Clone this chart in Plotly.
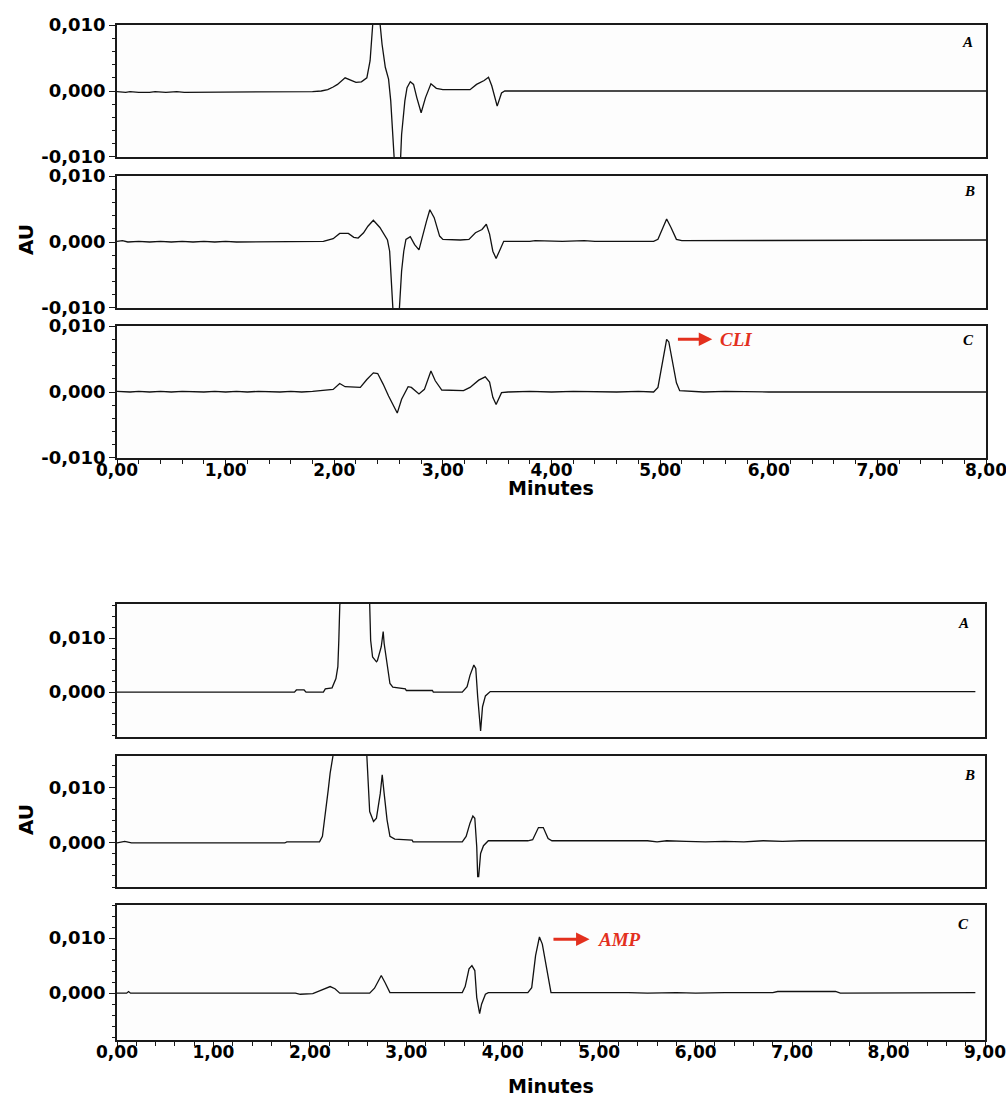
import plotly.graph_objects as go

# ---------------- data (time in minutes, absorbance in AU) ----------------
top_A = [
    (0.00, -0.0001), (0.08, -0.0002), (0.12, -0.0001), (0.20, -0.0002), (0.30, -0.0002), (0.35, -0.0001),
    (0.45, -0.0002), (0.55, -0.0001), (0.62, -0.0002), (0.75, -0.0002), (0.80, -0.0001), (0.90, -0.0002),
    (1.00, -0.0001), (1.10, -0.0002), (1.20, -0.0001), (1.30, -0.0002), (1.40, -0.0001), (1.50, -0.0001),
    (1.60, -0.0002), (1.70, -0.0001), (1.80, -0.0001), (1.88, 0.0000),
    (1.94, 0.0002), (1.99, 0.0006), (2.03, 0.0010), (2.10, 0.0020), (2.15, 0.0017), (2.20, 0.0013),
    (2.25, 0.0014), (2.30, 0.0020), (2.33, 0.0046), (2.35, 0.0105), (2.38, 0.0160), (2.42, 0.0105),
    (2.44, 0.0071), (2.47, 0.0036), (2.50, 0.0018), (2.52, -0.0015), (2.54, -0.0066), (2.56, -0.0105),
    (2.58, -0.0180), (2.61, -0.0105), (2.62, -0.0066), (2.65, -0.0015), (2.67, 0.0005), (2.70, 0.0014),
    (2.73, 0.0010), (2.76, -0.0010), (2.80, -0.0033), (2.84, -0.0010), (2.89, 0.0011), (2.94, 0.0004),
    (3.00, 0.0002), (3.10, 0.0002), (3.25, 0.0002), (3.31, 0.0010), (3.38, 0.0016), (3.42, 0.0021),
    (3.45, 0.0008), (3.50, -0.0023), (3.54, -0.0003), (3.57, 0.0000),
    (3.90, 0.0000), (4.00, -0.0001), (4.05, 0.0000), (4.30, -0.0001), (4.35, 0.0000), (4.60, 0.0000),
    (5.00, 0.0000), (5.20, -0.0001), (5.30, 0.0000), (5.45, -0.0001), (5.50, 0.0000), (6.10, 0.0000),
    (6.20, -0.0001), (6.30, 0.0000), (6.50, -0.0001), (6.60, 0.0000), (7.00, 0.0000), (7.20, -0.0001),
    (7.30, 0.0000), (7.50, -0.0001), (7.60, 0.0000), (8.00, 0.0000),
]
top_B = [
    (0.00, 0.0001), (0.05, 0.0002), (0.10, 0.0000), (0.20, 0.0001), (0.30, 0.0000), (0.40, 0.0001),
    (0.50, 0.0000), (0.60, 0.0001), (0.70, 0.0000), (0.80, 0.0001), (0.90, 0.0000), (1.00, 0.0001),
    (1.10, 0.0000), (1.20, 0.0000), (1.30, 0.0001), (1.40, 0.0000), (1.50, 0.0001), (1.60, 0.0000),
    (1.70, 0.0000), (1.80, 0.0000), (1.90, 0.0001),
    (1.99, 0.0005), (2.05, 0.0013), (2.13, 0.0013), (2.18, 0.0007), (2.22, 0.0006), (2.27, 0.0014),
    (2.31, 0.0024), (2.36, 0.0033), (2.42, 0.0022), (2.49, 0.0003), (2.51, -0.0014), (2.52, -0.0054),
    (2.53, -0.0100), (2.56, -0.0160), (2.60, -0.0100), (2.62, -0.0044), (2.64, -0.0014), (2.66, 0.0004),
    (2.70, 0.0008), (2.74, -0.0004), (2.78, -0.0012), (2.81, 0.0009), (2.85, 0.0032), (2.88, 0.0049),
    (2.92, 0.0037), (2.97, 0.0009), (3.00, 0.0004), (3.16, 0.0003), (3.24, 0.0004), (3.30, 0.0014),
    (3.36, 0.0019), (3.40, 0.0027), (3.43, 0.0012), (3.46, -0.0014), (3.49, -0.0025), (3.52, -0.0014),
    (3.56, 0.0001),
    (3.80, 0.0001), (3.85, 0.0002), (4.10, 0.0001), (4.30, 0.0002), (4.40, 0.0001), (4.94, 0.0001),
    (4.98, 0.0004), (5.03, 0.0022), (5.06, 0.0035), (5.10, 0.0022), (5.15, 0.0004), (5.20, 0.0002),
    (5.50, 0.0002), (6.00, 0.0002), (6.50, 0.0002), (7.00, 0.0002), (7.50, 0.0003), (8.00, 0.0003),
]
top_C = [
    (0.00, 0.0001), (0.06, 0.0000), (0.12, 0.0000), (0.20, 0.0001), (0.30, 0.0000), (0.40, 0.0001),
    (0.50, 0.0000), (0.60, 0.0001), (0.70, 0.0000), (0.80, 0.0000), (0.90, 0.0001), (1.00, 0.0000),
    (1.10, 0.0001), (1.20, 0.0000), (1.30, 0.0001), (1.40, 0.0000), (1.50, 0.0000), (1.60, 0.0001),
    (1.70, 0.0000), (1.80, 0.0001), (1.90, 0.0002),
    (1.99, 0.0004), (2.05, 0.0013), (2.10, 0.0008), (2.24, 0.0007), (2.30, 0.0019), (2.36, 0.0029),
    (2.40, 0.0028), (2.45, 0.0012), (2.50, -0.0006), (2.58, -0.0032), (2.62, -0.0011), (2.68, 0.0008),
    (2.71, 0.0007), (2.78, -0.0003), (2.83, 0.0004), (2.89, 0.0032), (2.93, 0.0017), (2.99, 0.0003),
    (3.19, 0.0002), (3.25, 0.0007), (3.33, 0.0018), (3.39, 0.0023), (3.43, 0.0015), (3.46, -0.0008),
    (3.49, -0.0019), (3.54, -0.0001), (3.60, 0.0000),
    (3.80, 0.0001), (4.00, 0.0000), (4.20, 0.0001), (4.40, 0.0000), (4.60, 0.0000), (4.80, 0.0001),
    (4.94, 0.0000), (4.98, 0.0007), (5.02, 0.0047), (5.06, 0.0080), (5.08, 0.0076), (5.11, 0.0047),
    (5.15, 0.0014), (5.18, 0.0002), (5.40, 0.0000), (5.60, 0.0001), (6.00, 0.0000), (6.50, 0.0000),
    (7.00, 0.0000), (7.50, 0.0000), (8.00, 0.0000),
]
bot_A = [
    (0.00, 0.0000), (1.00, 0.0000), (1.84, 0.0000), (1.86, 0.0004), (1.94, 0.0004), (1.96, 0.0000),
    (2.14, 0.0000), (2.16, 0.0006), (2.23, 0.0008), (2.27, 0.0025), (2.29, 0.0047), (2.30, 0.0096),
    (2.31, 0.0161), (2.45, 0.0350), (2.62, 0.0163), (2.63, 0.0096), (2.65, 0.0065), (2.69, 0.0056),
    (2.70, 0.0058), (2.74, 0.0084), (2.76, 0.0112), (2.77, 0.0090), (2.80, 0.0053), (2.83, 0.0016),
    (2.86, 0.0009), (2.99, 0.0006), (3.00, 0.0003), (3.27, 0.0003), (3.28, 0.0000), (3.58, 0.0000),
    (3.63, 0.0010), (3.66, 0.0031), (3.70, 0.0050), (3.72, 0.0044), (3.74, -0.0009), (3.76, -0.0058),
    (3.77, -0.0072), (3.79, -0.0027), (3.82, -0.0007), (3.87, 0.0001), (5.00, 0.0001), (6.00, 0.0001),
    (7.00, 0.0001), (8.00, 0.0001), (8.90, 0.0001),
]
bot_B = [
    (0.00, 0.0000), (0.08, 0.0003), (0.15, 0.0000), (1.00, 0.0000), (1.74, 0.0000), (1.76, 0.0002),
    (2.10, 0.0002), (2.13, 0.0012), (2.16, 0.0060), (2.19, 0.0096), (2.21, 0.0127), (2.24, 0.0158),
    (2.42, 0.0350), (2.59, 0.0160), (2.60, 0.0115), (2.62, 0.0057), (2.66, 0.0039), (2.69, 0.0045),
    (2.73, 0.0090), (2.75, 0.0124), (2.77, 0.0090), (2.80, 0.0042), (2.83, 0.0012), (2.88, 0.0007),
    (3.06, 0.0005), (3.07, 0.0002), (3.58, 0.0002), (3.62, 0.0012), (3.66, 0.0036), (3.69, 0.0049),
    (3.71, 0.0045), (3.73, -0.0007), (3.74, -0.0061), (3.75, -0.0061), (3.77, -0.0019), (3.80, -0.0005),
    (3.85, 0.0004), (4.26, 0.0004), (4.31, 0.0006), (4.37, 0.0028), (4.42, 0.0028), (4.47, 0.0008),
    (4.51, 0.0004), (5.50, 0.0004), (5.60, 0.0002), (5.70, 0.0004), (5.90, 0.0003), (6.10, 0.0002),
    (6.30, 0.0003), (6.50, 0.0002), (6.70, 0.0004), (6.90, 0.0003), (7.10, 0.0004), (7.50, 0.0004),
    (8.00, 0.0004), (8.50, 0.0003), (9.00, 0.0004),
]
bot_C = [
    (0.00, 0.0000), (0.10, 0.0000), (0.12, 0.0003), (0.14, 0.0000), (1.00, 0.0000), (1.85, 0.0000),
    (1.90, -0.0002), (2.03, -0.0001), (2.10, 0.0004), (2.21, 0.0012), (2.26, 0.0008), (2.31, 0.0000),
    (2.62, 0.0000), (2.67, 0.0009), (2.71, 0.0022), (2.74, 0.0032), (2.78, 0.0019), (2.83, 0.0001),
    (3.58, 0.0001), (3.61, 0.0012), (3.65, 0.0044), (3.68, 0.0050), (3.71, 0.0041), (3.73, -0.0008),
    (3.76, -0.0037), (3.78, -0.0020), (3.82, -0.0002), (3.85, 0.0001), (4.26, 0.0001), (4.30, 0.0010),
    (4.34, 0.0068), (4.38, 0.0102), (4.41, 0.0089), (4.46, 0.0041), (4.50, 0.0001), (5.30, 0.0001),
    (5.50, 0.0000), (5.80, 0.0001), (6.00, 0.0000), (6.30, 0.0001), (6.80, 0.0001), (6.85, 0.0003),
    (7.45, 0.0003), (7.50, 0.0000), (8.00, 0.0000), (8.50, 0.0001), (8.90, 0.0001),
]

panel_letters = ["A", "B", "C", "A", "B", "C"]
top_xticks = [0, 1, 2, 3, 4, 5, 6, 7, 8]
top_xticktext = ["0,00", "1,00", "2,00", "3,00", "4,00", "5,00", "6,00", "7,00", "8,00"]
bot_xticks = [0, 1, 2, 3, 4, 5, 6, 7, 8, 9]
bot_xticktext = ["0,00", "1,00", "2,00", "3,00", "4,00", "5,00", "6,00", "7,00", "8,00", "9,00"]
top_yticks = [-0.010, 0.000, 0.010]
top_yticktext = ["-0,010", "0,000", "0,010"]
bot_yticks = [0.000, 0.010]
bot_yticktext = ["0,000", "0,010"]
x_title = "Minutes"
y_title = "AU"
top_peak_label = "CLI"
bot_peak_label = "AMP"

# ---------------- layout geometry (pixels) ----------------
W, H = 1006, 1100
def fx(px):
    return px / W
def fy(py):
    return 1 - py / H

panels = [
    # series, (left, right), (top, bottom) px, x range, y range, is_bottom_axis, block
    (top_A, (117, 986), (25, 157), [0, 8], [-0.01002, 0.01002], False, "top"),
    (top_B, (117, 986), (176, 308), [0, 8], [-0.01002, 0.01002], False, "top"),
    (top_C, (117, 986), (326, 458), [0, 8], [-0.01002, 0.01002], True, "top"),
    (bot_A, (117, 985), (604, 737), [0, 9], [-0.0083, 0.0163], False, "bot"),
    (bot_B, (117, 985), (756, 887), [0, 9], [-0.0080, 0.0158], False, "bot"),
    (bot_C, (117, 985), (905, 1040), [0, 9], [-0.0085, 0.0160], True, "bot"),
]

FRAME = "#1a1a1a"
YTICKFONT = dict(family="DejaVu Sans", size=18, color="#000000", weight="bold")
XTICKFONT = dict(family="DejaVu Sans", size=17, color="#000000", weight="bold")

fig = go.Figure()
layout = dict(
    width=W, height=H, margin=dict(l=0, r=0, t=0, b=0, autoexpand=False),
    paper_bgcolor="white", plot_bgcolor="#fdfdfd", showlegend=False,
)

for i, (series, (xl, xr), (yt, yb), xr_, yr_, bottom, block) in enumerate(panels):
    n = "" if i == 0 else str(i + 1)
    t = [p[0] for p in series]
    v = [p[1] for p in series]
    fig.add_trace(go.Scatter(x=t, y=v, mode="lines", xaxis="x" + n, yaxis="y" + n,
                             line=dict(color="#111111", width=1.3), hoverinfo="skip"))
    xticks = top_xticks if block == "top" else bot_xticks
    xtext = top_xticktext if block == "top" else bot_xticktext
    yticks = top_yticks if block == "top" else bot_yticks
    ytext = top_yticktext if block == "top" else bot_yticktext
    layout["xaxis" + n] = dict(
        domain=[fx(xl), fx(xr)], range=xr_, anchor="y" + n, automargin=False,
        showline=True, mirror=True, linecolor=FRAME, linewidth=1.6,
        showgrid=False, zeroline=False,
        tickvals=xticks, ticktext=xtext, showticklabels=bottom,
        ticklabeloverflow="allow", ticklabelstandoff=-9,
        ticks="outside" if bottom else "", ticklen=5, tickwidth=1.2, tickcolor=FRAME,
        tickfont=XTICKFONT,
        minor=dict(ticks="outside" if bottom else "", dtick=0.2, ticklen=4, tickwidth=1, tickcolor=FRAME, showgrid=False),
    )
    layout["yaxis" + n] = dict(
        domain=[fy(yb), fy(yt)], range=yr_, anchor="x" + n, automargin=False,
        showline=True, mirror=True, linecolor=FRAME, linewidth=1.6,
        showgrid=False, zeroline=False,
        tickvals=yticks, ticktext=ytext, ticklabeloverflow="allow",
        ticks="outside", ticklen=6, tickwidth=1.2, tickcolor=FRAME,
        tickfont=YTICKFONT,
        minor=dict(ticks="outside", dtick=0.002, ticklen=3, tickwidth=1, tickcolor=FRAME, showgrid=False),
    )

fig.update_layout(**layout)

annotations = []
letter_pos = [(967, 42), (969, 191), (968, 340), (963, 623), (969, 775), (963, 924)]
for letter, (px, py) in zip(panel_letters, letter_pos):
    annotations.append(dict(
        text=letter, x=fx(px), y=fy(py), xref="paper", yref="paper",
        xanchor="center", yanchor="middle", showarrow=False,
        font=dict(family="Liberation Serif", size=15, color="#000000", weight="bold", style="italic"),
    ))

# axis titles
for (px, py) in [(551, 488), (551, 1086)]:
    annotations.append(dict(
        text=x_title, x=fx(px), y=fy(py), xref="paper", yref="paper",
        xanchor="center", yanchor="middle", showarrow=False,
        font=dict(family="DejaVu Sans", size=19, color="#000000", weight="bold"),
    ))
for (px, py) in [(26, 240), (26, 820)]:
    annotations.append(dict(
        text=y_title, x=fx(px), y=fy(py), xref="paper", yref="paper",
        xanchor="center", yanchor="middle", showarrow=False, textangle=-90,
        font=dict(family="DejaVu Sans", size=20, color="#000000", weight="bold"),
    ))

RED = "#e3301e"
# CLI arrow + label (top block, panel C)
annotations.append(dict(
    x=5.48, y=0.0080, ax=5.15, ay=0.0080, xref="x3", yref="y3", axref="x3", ayref="y3",
    text="", showarrow=True, arrowhead=2, arrowsize=0.9, arrowwidth=3, arrowcolor=RED,
))
annotations.append(dict(
    text=top_peak_label, x=5.53, y=0.0080, xref="x3", yref="y3",
    xanchor="left", yanchor="middle", showarrow=False,
    font=dict(family="Liberation Serif", size=19, color=RED, weight="bold", style="italic"),
))
# AMP arrow + label (bottom block, panel C)
annotations.append(dict(
    x=4.90, y=0.0098, ax=4.51, ay=0.0098, xref="x6", yref="y6", axref="x6", ayref="y6",
    text="", showarrow=True, arrowhead=2, arrowsize=0.9, arrowwidth=3, arrowcolor=RED,
))
annotations.append(dict(
    text=bot_peak_label, x=4.97, y=0.0098, xref="x6", yref="y6",
    xanchor="left", yanchor="middle", showarrow=False,
    font=dict(family="Liberation Serif", size=19, color=RED, weight="bold", style="italic"),
))

fig.update_layout(annotations=annotations)

# the page's default 8px body margin would shift the fixed-size figure
fig.write_html("out.html", config={"displayModeBar": False},
               post_script="document.body.style.margin='0';")
